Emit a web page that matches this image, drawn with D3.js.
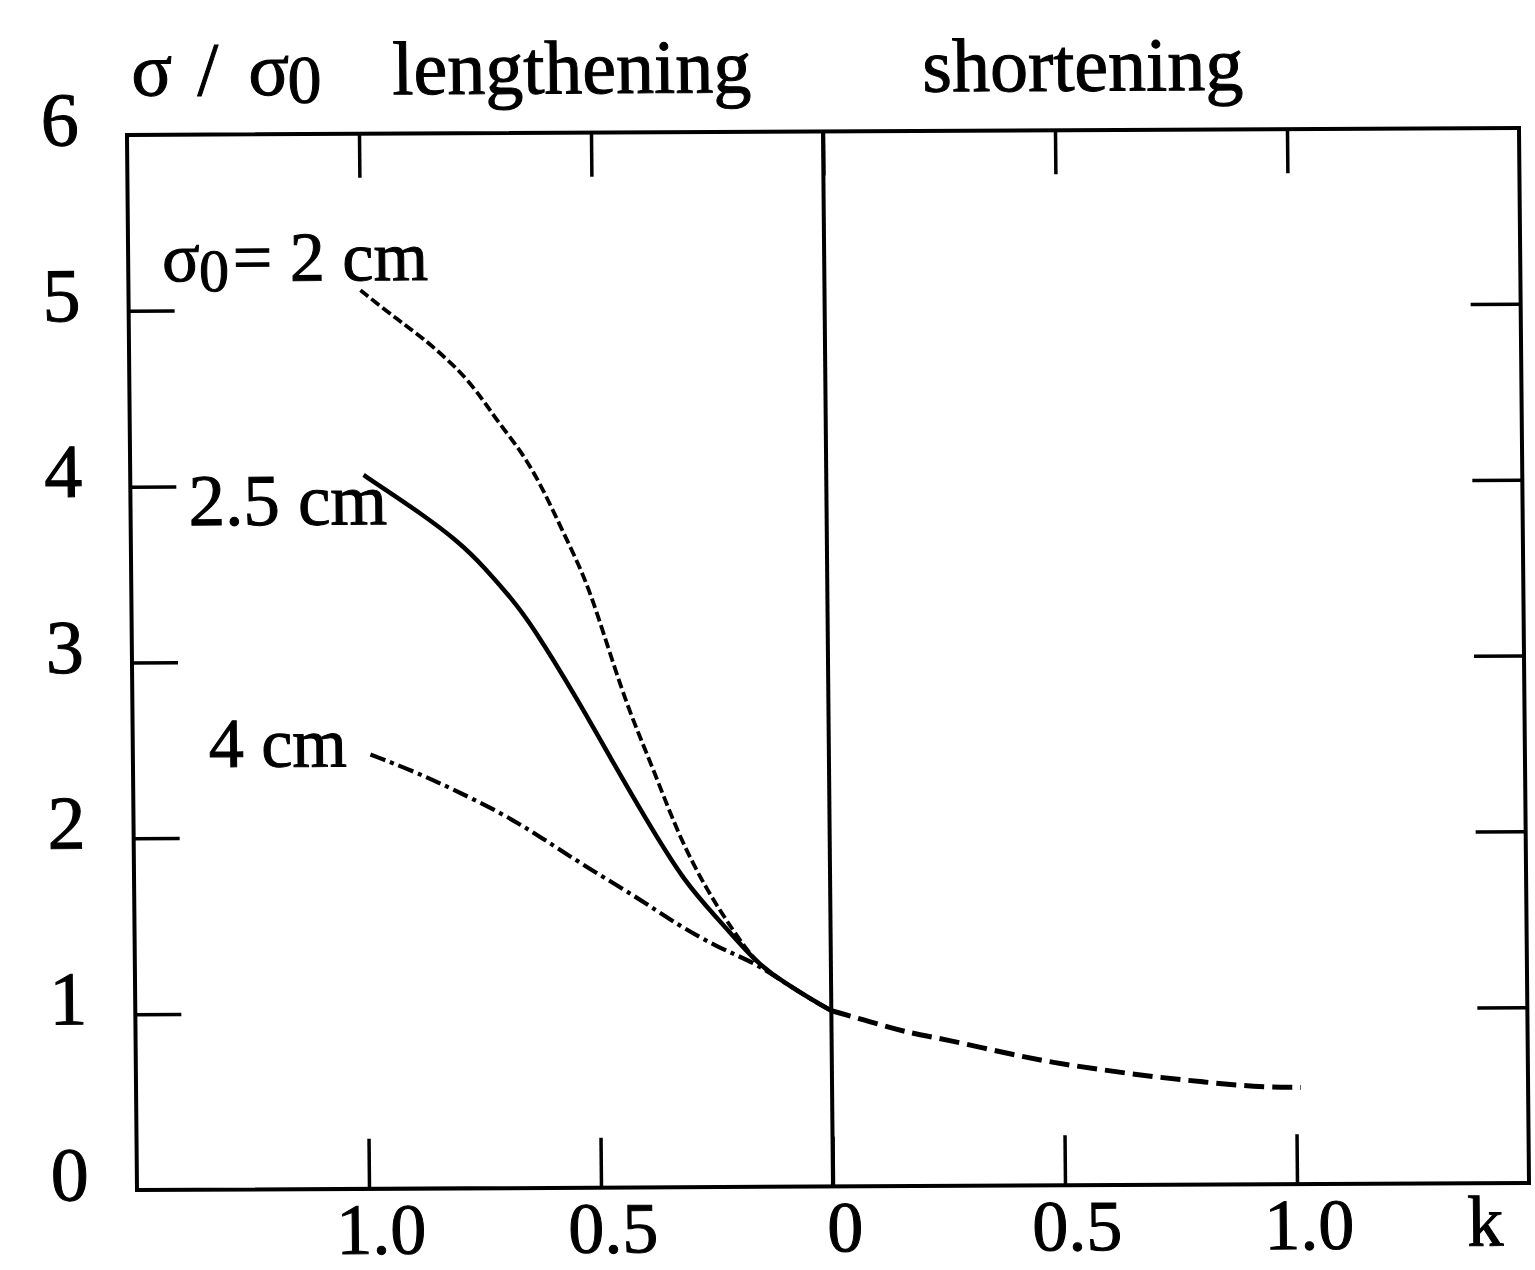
<!DOCTYPE html>
<html><head><meta charset="utf-8">
<script src="https://cdn.jsdelivr.net/npm/d3@7"></script>
<style>
html,body{margin:0;padding:0;background:#fff;}
svg text{font-family:"Liberation Serif","Times New Roman",serif;fill:#000;stroke:#000;stroke-width:1;}
</style></head><body>
<svg id="chart" width="1535" height="1270"></svg>
<script>
// Bunch length ratio sigma/sigma0 versus k (left half: lengthening, right half: shortening).
// Negative k values are drawn on the lengthening side; tick labels show |k|.
const kTicks = [-1.0, -0.5, 0, 0.5, 1.0];
const kTickLabels = ["1.0", "0.5", "0", "0.5", "1.0"];
const yTicks = [0, 1, 2, 3, 4, 5, 6];
const yInnerTicks = [1, 2, 3, 4, 5];

// sigma0 = 2 cm
const k2  = [-1.0, -0.915, -0.872, -0.786, -0.737, -0.707, -0.651, -0.608, -0.572, -0.529, -0.50, -0.442, -0.405, -0.369, -0.322, -0.264, -0.208, -0.16, -0.10, -0.04, 0];
const s2  = [5.11, 4.93, 4.85, 4.65, 4.48, 4.36, 4.17, 3.96, 3.75, 3.51, 3.30, 2.80, 2.55, 2.31, 1.98, 1.68, 1.45, 1.27, 1.16, 1.06, 1.0];
// sigma0 = 2.5 cm
const k25 = [-0.997, -0.953, -0.88, -0.794, -0.738, -0.68, -0.637, -0.541, -0.47, -0.399, -0.313, -0.24, -0.16, -0.10, -0.04, 0];
const s25 = [4.06, 3.98, 3.85, 3.68, 3.53, 3.35, 3.20, 2.78, 2.44, 2.11, 1.73, 1.52, 1.27, 1.16, 1.06, 1.0];
// sigma0 = 4 cm
const k4  = [-0.988, -0.892, -0.819, -0.711, -0.625, -0.529, -0.422, -0.328, -0.241, -0.16, -0.10, -0.04, 0];
const s4  = [2.47, 2.37, 2.28, 2.14, 2.00, 1.83, 1.66, 1.49, 1.36, 1.27, 1.16, 1.06, 1.0];
// shortening branch (common to all sigma0)
const kS  = [0, 0.084, 0.155, 0.25, 0.371, 0.478, 0.586, 0.694, 0.802, 0.91, 1.01];
const sS  = [1.0, 0.936, 0.878, 0.831, 0.756, 0.697, 0.655, 0.614, 0.584, 0.554, 0.55];

const svg = d3.select("#chart");

const x = d3.scaleLinear().domain([-1.5, 1.5]).range([132, 1524]);
const y = d3.scaleLinear().domain([0, 6]).range([1186.5, 131.5]);

// slight tilt of the whole figure
const g = svg.append("g")
  .attr("transform", "matrix(1,-0.005,0.0095,1,-6.27,4.15)");

const ink = "#000";

// frame
g.append("rect")
  .attr("x", x(-1.5)).attr("y", y(6))
  .attr("width", x(1.5) - x(-1.5)).attr("height", y(0) - y(6))
  .attr("fill", "none").attr("stroke", ink).attr("stroke-width", 4);

// k = 0 divider
g.append("line")
  .attr("x1", x(0)).attr("x2", x(0)).attr("y1", y(6)).attr("y2", y(0))
  .attr("stroke", ink).attr("stroke-width", 4);

function styleAxis(sel) {
  sel.select(".domain").remove();
  sel.selectAll(".tick line").attr("stroke", ink).attr("stroke-width", 3.5);
  sel.selectAll(".tick text").remove();
}

g.append("g").attr("transform", `translate(0,${y(6)})`)
  .call(d3.axisTop(x).tickValues(kTicks).tickSize(-44)).call(styleAxis);
g.append("g").attr("transform", `translate(0,${y(0)})`)
  .call(d3.axisBottom(x).tickValues(kTicks).tickSize(-50)).call(styleAxis);
g.append("g").attr("transform", `translate(${x(-1.5)},0)`)
  .call(d3.axisLeft(y).tickValues(yInnerTicks).tickSize(-46)).call(styleAxis);
g.append("g").attr("transform", `translate(${x(1.5)},0)`)
  .call(d3.axisRight(y).tickValues(yInnerTicks).tickSize(-50)).call(styleAxis);

// tick labels
const fs = 76;
g.selectAll("text.ylab").data(yTicks).enter().append("text")
  .attr("class", "ylab")
  .attr("x", 65).attr("y", d => y(d) + 10)
  .attr("text-anchor", "middle").attr("font-size", fs)
  .text(d => d);

g.selectAll("text.xlab").data(kTicks).enter().append("text")
  .attr("class", "xlab")
  .attr("x", d => x(d) + 12).attr("y", y(0) + 65)
  .attr("text-anchor", "middle").attr("font-size", 72)
  .text((d, i) => kTickLabels[i]);

g.append("text").attr("x", 1480).attr("y", 1249)
  .attr("text-anchor", "middle").attr("font-size", 72).text("k");

// header texts
g.append("text").attr("x", 137).attr("y", 92).attr("font-size", fs).text("σ");
g.append("text").attr("x", 203).attr("y", 92).attr("font-size", fs).text("/");
const t1 = g.append("text").attr("x", 254).attr("y", 92).attr("font-size", fs);
t1.append("tspan").text("σ");
t1.append("tspan").attr("dx", -2).attr("dy", 8).attr("font-size", 68).text("0");
g.append("text").attr("x", 398).attr("y", 92).attr("font-size", fs).text("lengthening");
g.append("text").attr("x", 928).attr("y", 92).attr("font-size", fs).text("shortening");

// curves
const line = d3.line()
  .x(d => x(d[0])).y(d => y(d[1]))
  .curve(d3.curveBasis);

const series = [
  {k: k2,  s: s2,  dash: "10 4", w: 3.8},
  {k: k25, s: s25, dash: null,   w: 4.5},
  {k: k4,  s: s4,  dash: "16 5 4 5", w: 4.2},
  {k: kS,  s: sS,  dash: "20 8", w: 5}
];
series.forEach(sr => {
  const pts = sr.k.map((kk, i) => [kk, sr.s[i]]);
  g.append("path")
    .attr("d", line(pts))
    .attr("fill", "none").attr("stroke", ink)
    .attr("stroke-width", sr.w)
    .attr("stroke-dasharray", sr.dash);
});

// curve labels
const l1 = g.append("text").attr("x", 166).attr("y", 278).attr("font-size", 70);
l1.append("tspan").text("σ");
l1.append("tspan").attr("dx", -1).attr("dy", 10).attr("font-size", 60).text("0");
l1.append("tspan").attr("dx", 4).attr("dy", -10).text("= 2 cm");
g.append("text").attr("x", 190).attr("y", 522).attr("font-size", 73).text("2.5 cm");
g.append("text").attr("x", 208).attr("y", 764).attr("font-size", 70).text("4 cm");
</script>
</body></html>
